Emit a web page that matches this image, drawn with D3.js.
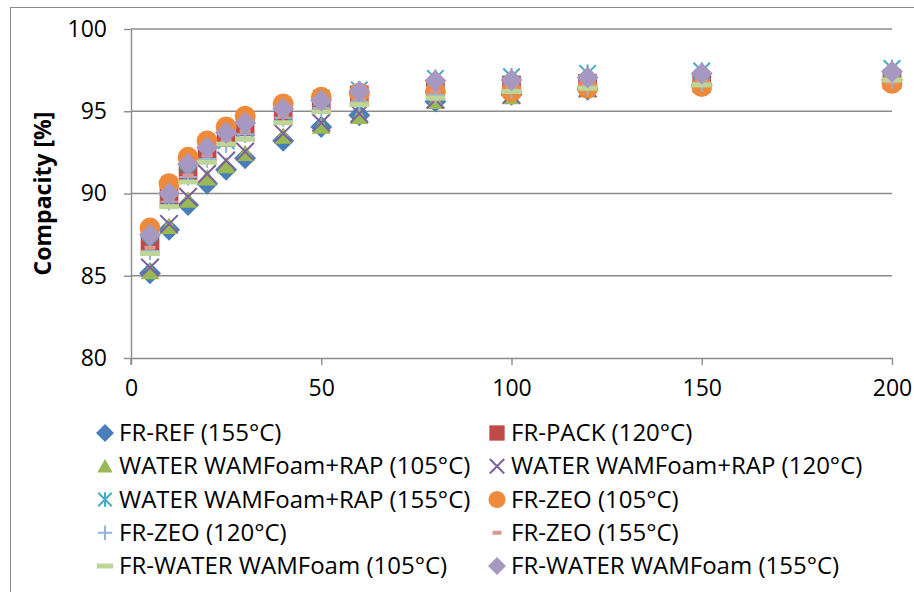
<!DOCTYPE html>
<html>
<head>
<meta charset="utf-8">
<script src="https://cdn.jsdelivr.net/npm/d3@7"></script>
<style>
  body { margin: 0; background: #fff; }
  svg { display: block; font-family: 'Open Sans', Lato, sans-serif; }
</style>
</head>
<body>
<div id="chart"></div>
<script>
(function() {
  var width = 914;
  var height = 592;

  // time / compaction steps on the x axis
  var steps = [5, 10, 15, 20, 25, 30, 40, 50, 60, 80, 100, 120, 150, 200];
  var xTicks = [0, 50, 100, 150, 200];
  var yTicks = [80, 85, 90, 95, 100];

  var seriesNames = [
    'FR-REF (155°C)',
    'FR-PACK (120°C)',
    'WATER WAMFoam+RAP (105°C)',
    'WATER WAMFoam+RAP (120°C)',
    'WATER WAMFoam+RAP (155°C)',
    'FR-ZEO (105°C)',
    'FR-ZEO (120°C)',
    'FR-ZEO (155°C)',
    'FR-WATER WAMFoam (105°C)',
    'FR-WATER WAMFoam (155°C)'
  ];

  var frRef155 = [85.15, 87.8, 89.3, 90.6, 91.45, 92.15, 93.2, 94.05, 94.75, 95.6, 96.0, 96.3, 96.6, 96.9];
  var frPack120 = [86.9, 89.75, 91.3, 92.5, 93.4, 94.05, 94.95, 95.5, 96.0, 96.35, 96.6, 96.7, 96.8, 96.9];
  var waterRap105 = [85.25, 88.0, 89.6, 90.95, 91.7, 92.45, 93.5, 94.1, 94.7, 95.6, 95.9, 96.3, 96.6, 96.9];
  var waterRap120 = [85.5, 88.15, 89.8, 91.2, 92.0, 92.55, 93.65, 94.3, 94.85, 95.7, 96.0, 96.4, 96.7, 97.0];
  var waterRap155 = [86.8, 89.6, 91.1, 92.3, 93.2, 93.9, 94.9, 95.8, 96.3, 97.0, 97.1, 97.3, 97.45, 97.6];
  var frZeo105 = [87.9, 90.6, 92.2, 93.2, 94.05, 94.7, 95.45, 95.85, 96.1, 96.2, 96.2, 96.4, 96.5, 96.7];
  var frZeo120 = [86.5, 89.5, 91.0, 92.1, 93.0, 93.6, 94.6, 95.2, 95.6, 96.0, 96.3, 96.5, 96.7, 96.9];
  var frZeo155 = [86.7, 89.6, 91.1, 92.3, 93.2, 93.8, 94.7, 95.3, 95.8, 96.2, 96.4, 96.6, 96.8, 96.75];
  var frWater105 = [86.35, 89.2, 90.7, 91.9, 93.0, 93.3, 94.3, 94.97, 95.4, 95.8, 96.2, 96.4, 96.6, 96.9];
  var frWater155 = [87.5, 90.0, 91.8, 92.8, 93.7, 94.3, 95.15, 95.65, 96.2, 96.85, 96.9, 97.05, 97.3, 97.4];

  var seriesValues = [frRef155, frPack120, waterRap105, waterRap120, waterRap155,
    frZeo105, frZeo120, frZeo155, frWater105, frWater155];

  var colors = ['#4a7ebb', '#be4b48', '#98b954', '#7d60a0', '#46aac5',
    '#ee8a3c', '#95b3d7', '#d99694', '#bdd597', '#a798c2'];
  var shapes = ['diamond', 'square', 'triangle', 'x', 'star', 'circle', 'plus', 'dashSmall', 'dash', 'diamond'];

  var plot = { left: 131, right: 892, top: 29, bottom: 358 };

  var svg = d3.select('#chart').append('svg')
    .attr('width', width)
    .attr('height', height);

  // outer chart border
  svg.append('rect')
    .attr('x', 10.5).attr('y', 7.5)
    .attr('width', 1000).attr('height', 1000)
    .attr('fill', 'none')
    .attr('stroke', '#8c8c8c')
    .attr('stroke-width', 1);

  var x = d3.scaleLinear().domain([0, 200]).range([plot.left, plot.right]);
  var y = d3.scaleLinear().domain([80, 100]).range([plot.bottom, plot.top]);

  // horizontal gridlines
  svg.append('g')
    .selectAll('line')
    .data(yTicks.filter(function(d) { return d !== 80; }))
    .enter()
    .append('line')
    .attr('x1', plot.left).attr('x2', plot.right)
    .attr('y1', function(d) { return y(d); })
    .attr('y2', function(d) { return y(d); })
    .attr('stroke', '#8c8c8c')
    .attr('stroke-width', 1.4);

  var yAxis = svg.append('g')
    .attr('transform', 'translate(' + plot.left + ',0)')
    .call(d3.axisLeft(y).tickValues(yTicks).tickSize(7).tickPadding(17).tickSizeOuter(0));

  var xAxis = svg.append('g')
    .attr('transform', 'translate(0,' + plot.bottom + ')')
    .call(d3.axisBottom(x).tickValues(xTicks).tickSize(7).tickPadding(15).tickSizeOuter(0));

  [yAxis, xAxis].forEach(function(axis) {
    axis.select('.domain').attr('stroke', '#8c8c8c').attr('stroke-width', 1.4);
    axis.selectAll('.tick line').attr('stroke', '#8c8c8c').attr('stroke-width', 1.4);
    axis.selectAll('.tick text')
      .attr('fill', '#000')
      .style('font-size', '23px')
      .style('font-family', "'Open Sans', sans-serif");
  });

  // extend y axis down to meet the x tick length
  svg.append('line')
    .attr('x1', plot.left).attr('x2', plot.left)
    .attr('y1', plot.bottom).attr('y2', plot.bottom + 7)
    .attr('stroke', '#8c8c8c').attr('stroke-width', 1.4);

  svg.append('text')
    .attr('transform', 'translate(51,' + ((plot.top + plot.bottom) / 2) + ') rotate(-90)')
    .attr('text-anchor', 'middle')
    .style('font-size', '23px')
    .style('font-weight', 'bold')
    .text('Compacity [%]');

  /*
   * Draws one marker of the given shape at (cx, cy)
   */
  function drawMarker(g, shape, color, cx, cy, s) {
    var p;
    switch (shape) {
      case 'diamond':
        p = d3.path();
        p.moveTo(cx, cy - s); p.lineTo(cx + s, cy); p.lineTo(cx, cy + s); p.lineTo(cx - s, cy); p.closePath();
        g.append('path').attr('d', p.toString()).attr('fill', color);
        break;
      case 'square':
        g.append('rect').attr('x', cx - s * 0.85).attr('y', cy - s * 0.85)
          .attr('width', s * 1.7).attr('height', s * 1.7).attr('fill', color);
        break;
      case 'triangle':
        p = d3.path();
        p.moveTo(cx, cy - s * 0.8); p.lineTo(cx + s * 0.85, cy + s * 0.7); p.lineTo(cx - s * 0.85, cy + s * 0.7); p.closePath();
        g.append('path').attr('d', p.toString()).attr('fill', color);
        break;
      case 'circle':
        g.append('circle').attr('cx', cx).attr('cy', cy).attr('r', s * 0.95).attr('fill', color);
        break;
      case 'x':
        p = d3.path();
        p.moveTo(cx - s * 0.8, cy - s * 0.8); p.lineTo(cx + s * 0.8, cy + s * 0.8);
        p.moveTo(cx + s * 0.8, cy - s * 0.8); p.lineTo(cx - s * 0.8, cy + s * 0.8);
        g.append('path').attr('d', p.toString()).attr('stroke', color).attr('stroke-width', 2).attr('fill', 'none');
        break;
      case 'star':
        p = d3.path();
        p.moveTo(cx - s * 0.75, cy - s * 0.75); p.lineTo(cx + s * 0.75, cy + s * 0.75);
        p.moveTo(cx + s * 0.75, cy - s * 0.75); p.lineTo(cx - s * 0.75, cy + s * 0.75);
        p.moveTo(cx, cy - s * 0.8); p.lineTo(cx, cy + s * 0.8);
        g.append('path').attr('d', p.toString()).attr('stroke', color).attr('stroke-width', 2).attr('fill', 'none');
        break;
      case 'plus':
        p = d3.path();
        p.moveTo(cx - s * 0.8, cy); p.lineTo(cx + s * 0.8, cy);
        p.moveTo(cx, cy - s * 0.8); p.lineTo(cx, cy + s * 0.8);
        g.append('path').attr('d', p.toString()).attr('stroke', color).attr('stroke-width', 2).attr('fill', 'none');
        break;
      case 'dash':
        g.append('rect').attr('x', cx - s * 0.9).attr('y', cy - 2.5)
          .attr('width', s * 1.8).attr('height', 5).attr('fill', color);
        break;
      case 'dashSmall':
        g.append('rect').attr('x', cx - s * 0.5).attr('y', cy - 2)
          .attr('width', s * 1.0).attr('height', 4).attr('fill', color);
        break;
    }
  }

  // data markers, later series drawn on top
  var marks = svg.append('g').attr('class', 'marks');
  seriesValues.forEach(function(values, si) {
    var g = marks.append('g').attr('class', 'series-' + si);
    values.forEach(function(v, i) {
      drawMarker(g, shapes[si], colors[si], x(steps[i]), y(v), 11);
    });
  });

  // legend, two columns
  var legend = svg.append('g').attr('class', 'legend');
  var legendCols = [105, 497];
  var legendRowY = d3.scaleLinear().domain([0, 4]).range([433, 566]);
  seriesNames.forEach(function(name, si) {
    var col = si % 2;
    var row = Math.floor(si / 2);
    var cx = legendCols[col];
    var cy = legendRowY(row);
    var g = legend.append('g');
    drawMarker(g, shapes[si], colors[si], cx, cy, 9);
    g.append('text')
      .attr('x', cx + 14)
      .attr('y', cy + 8)
      .style('font-size', '24px')
      .attr('fill', '#000')
      .text(name);
  });

}).call(this);
</script>
</body>
</html>
